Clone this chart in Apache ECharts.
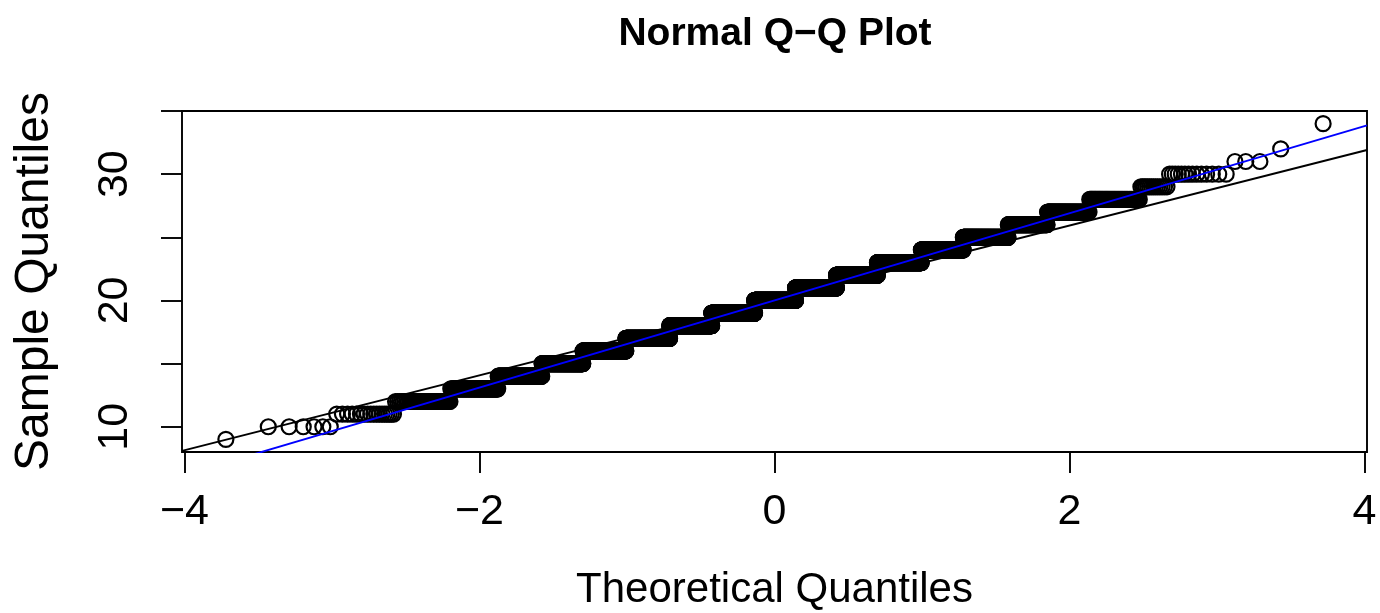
<!DOCTYPE html>
<html>
<head>
<meta charset="utf-8">
<script src="https://cdn.jsdelivr.net/npm/echarts@6/dist/echarts.min.js"></script>
<style>
  html, body { margin: 0; padding: 0; background: #ffffff; }
  #chart { width: 1380px; height: 613px; }
</style>
</head>
<body>
<div id="chart"></div>
<script>
// Sample: distinct integer values and how many observations take each value
const sampleValues = [9, 10, 11, 12, 13, 14, 15, 16, 17, 18, 19, 20, 21, 22, 23, 24, 25, 26, 27, 28, 29, 30, 31, 32, 33, 34];
const sampleCounts = [1, 6, 18, 45, 82, 135, 198, 299, 409, 483, 556, 551, 531, 472, 415, 297, 219, 122, 79, 49, 14, 14, 3, 1, 0, 1];

// Tick positions and labelled ticks
const xTickValues = [-4, -2, 0, 2, 4];
const yTickValues = [10, 15, 20, 25, 30, 35];
const yLabelValues = [10, 20, 30];

// Blue reference line: y = intercept + slope * x
const blueLine = { intercept: 20, slope: 3.45 };

const FONT = '"Liberation Sans", Arial, Helvetica, sans-serif';

// Inverse standard normal CDF (Acklam's rational approximation)
function qnorm(p) {
  const a = [-3.969683028665376e+01, 2.209460984245205e+02, -2.759285104469687e+02,
             1.383577518672690e+02, -3.066479806614716e+01, 2.506628277459239e+00];
  const b = [-5.447609879822406e+01, 1.615858368580409e+02, -1.556989798598866e+02,
             6.680131188771972e+01, -1.328068155288572e+01];
  const c = [-7.784894002430293e-03, -3.223964580411365e-01, -2.400758277161838e+00,
             -2.549671010322563e+00, 4.374664141464968e+00, 2.938163982698783e+00];
  const d = [7.784695709041462e-03, 3.224671290700398e-01, 2.445134137142996e+00,
             3.754408661907416e+00];
  const pl = 0.02425, ph = 1 - pl;
  let q, r;
  if (p < pl) {
    q = Math.sqrt(-2 * Math.log(p));
    return (((((c[0]*q+c[1])*q+c[2])*q+c[3])*q+c[4])*q+c[5]) /
           ((((d[0]*q+d[1])*q+d[2])*q+d[3])*q+1);
  }
  if (p <= ph) {
    q = p - 0.5; r = q * q;
    return (((((a[0]*r+a[1])*r+a[2])*r+a[3])*r+a[4])*r+a[5])*q /
           (((((b[0]*r+b[1])*r+b[2])*r+b[3])*r+b[4])*r+1);
  }
  q = Math.sqrt(-2 * Math.log(1 - p));
  return -(((((c[0]*q+c[1])*q+c[2])*q+c[3])*q+c[4])*q+c[5]) /
          ((((d[0]*q+d[1])*q+d[2])*q+d[3])*q+1);
}

// Sorted sample against theoretical normal quantiles, p_i = (i - 0.5) / n
const sorted = [];
sampleValues.forEach((v, k) => { for (let j = 0; j < sampleCounts[k]; j++) sorted.push(v); });
const n = sorted.length;
const qqPoints = sorted.map((v, i) => [qnorm((i + 0.5) / n), v]);

// Sample quantile (linear interpolation between order statistics)
function quantile(arr, p) {
  const h = (arr.length - 1) * p, lo = Math.floor(h);
  return arr[lo] + (h - lo) * ((arr[Math.min(lo + 1, arr.length - 1)]) - arr[lo]);
}

// Black line through the first and third quartiles
const q1 = quantile(sorted, 0.25), q3 = quantile(sorted, 0.75);
const z1 = qnorm(0.25), z3 = qnorm(0.75);
const quartileSlope = (q3 - q1) / (z3 - z1);
const blackLine = { intercept: q1 - quartileSlope * z1, slope: quartileSlope };

// Plot limits: data range widened by 4% on each side
const xs = qqPoints.map(p => p[0]);
const xLo = Math.min(...xs), xHi = Math.max(...xs);
const yLo = sorted[0], yHi = sorted[n - 1];
const xMin = xLo - 0.04 * (xHi - xLo), xMax = xHi + 0.04 * (xHi - xLo);
const yMin = yLo - 0.04 * (yHi - yLo), yMax = yHi + 0.04 * (yHi - yLo);

function linePoints(l) {
  return [[xMin, l.intercept + l.slope * xMin], [xMax, l.intercept + l.slope * xMax]];
}

const chart = echarts.init(document.getElementById('chart'), null, { renderer: 'canvas' });
chart.setOption({
  animation: false,
  backgroundColor: '#ffffff',
  title: {
    text: 'Normal Q\u2212Q Plot',
    left: 775, textAlign: 'center',
    top: 15, padding: 0,
    textStyle: { fontFamily: FONT, fontWeight: 'bold', fontSize: 39, color: '#000' }
  },
  grid: {
    left: 182, right: 13, top: 111, bottom: 161,
    outerBoundsMode: 'none', containLabel: false,
    show: true, borderColor: '#000', borderWidth: 1.9, backgroundColor: 'transparent'
  },
  xAxis: {
    type: 'value', min: xMin, max: xMax,
    name: 'Theoretical Quantiles', nameLocation: 'middle', nameGap: 117,
    nameTextStyle: { fontFamily: FONT, fontSize: 42, color: '#000' },
    axisLine: { show: false, onZero: false },
    splitLine: { show: false },
    axisTick: { show: true, customValues: xTickValues, length: 21, lineStyle: { color: '#000', width: 1.9 } },
    axisLabel: {
      customValues: xTickValues, margin: 39,
      fontFamily: FONT, fontSize: 43, color: '#000',
      formatter: v => String(v).replace('-', '\u2212')
    }
  },
  yAxis: {
    type: 'value', min: yMin, max: yMax,
    name: 'Sample Quantiles', nameLocation: 'middle', nameGap: 123,
    nameTextStyle: { fontFamily: FONT, fontSize: 48, color: '#000' },
    axisLine: { show: false, onZero: false },
    splitLine: { show: false },
    axisTick: { show: true, customValues: yTickValues, length: 21, lineStyle: { color: '#000', width: 1.9 } },
    axisLabel: {
      customValues: yLabelValues, margin: 45, rotate: 90,
      fontFamily: FONT, fontSize: 43, color: '#000'
    }
  },
  series: [
    {
      type: 'scatter',
      data: qqPoints,
      symbol: 'circle', symbolSize: 15,
      itemStyle: { color: 'rgba(0,0,0,0)', borderColor: '#000', borderWidth: 2.2, opacity: 1 },
      progressive: 0, large: false, silent: true, z: 2
    },
    {
      type: 'line', data: linePoints(blackLine), showSymbol: false, symbol: 'none',
      lineStyle: { color: '#000', width: 1.9 }, clip: true, silent: true, z: 3
    },
    {
      type: 'line', data: linePoints(blueLine), showSymbol: false, symbol: 'none',
      lineStyle: { color: '#0000ff', width: 1.9 }, clip: true, silent: true, z: 4
    }
  ]
});
</script>
</body>
</html>
